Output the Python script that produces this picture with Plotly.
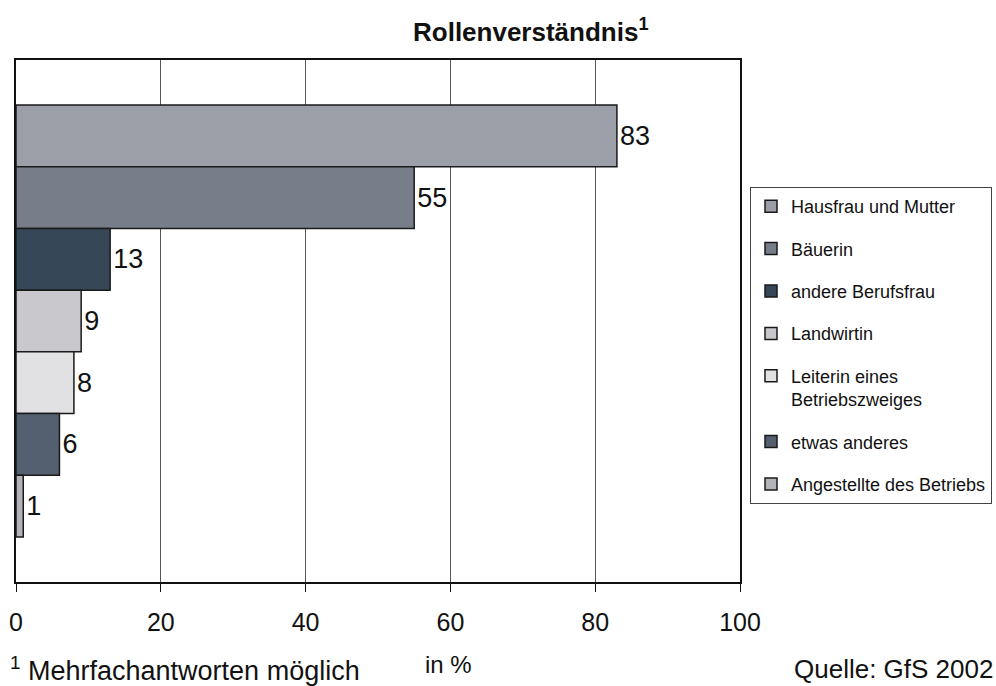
import plotly.graph_objects as go

# Survey answers (multiple answers allowed), values in percent
categories = [
    "Hausfrau und Mutter",
    "Bäuerin",
    "andere Berufsfrau",
    "Landwirtin",
    "Leiterin eines<br>Betriebszweiges",
    "etwas anderes",
    "Angestellte des Betriebs",
]
values = [83, 55, 13, 9, 8, 6, 1]
bar_colors = ["#9c9fa8", "#787e89", "#364858", "#c9c9cd", "#e1e1e3", "#545f6f", "#b2b4ba"]
x_ticks = [0, 20, 40, 60, 80, 100]

W, H = 996, 686
L, R, T, B = 16, 740, 60, 582   # plot area in pixels


def px_x(px):
    return (px - L) / (R - L)


def px_y(py):
    return (B - py) / (B - T)


FONT = "Liberation Sans, Arial, sans-serif"

fig = go.Figure()
for i, (name, val, col) in enumerate(zip(categories, values, bar_colors)):
    fig.add_trace(go.Bar(
        x=[val], y=[i], name=name, orientation="h", width=1,
        marker=dict(color=col, line=dict(color="#1a1a1a", width=1.5)),
        text=[str(val)], textposition="outside", cliponaxis=False,
        constraintext="none",
        textfont=dict(size=27, color="#111111", family=FONT),
        legendgroup=f"g{i}", showlegend=True,
    ))

fig.update_layout(
    width=W, height=H,
    margin=dict(l=L, r=W - R, t=T, b=H - B, pad=0, autoexpand=False),
    paper_bgcolor="white", plot_bgcolor="white",
    barmode="overlay",
    font=dict(family=FONT, color="#111111"),
    showlegend=True,
    legend=dict(
        xref="container", yref="container",
        x=750 / W, y=1 - 187 / H, xanchor="left", yanchor="top",
        bgcolor="white", bordercolor="#444444", borderwidth=1,
        font=dict(size=18, family=FONT, color="#111111"),
        traceorder="grouped", tracegroupgap=16, valign="top",
        itemclick=False,
    ),
    xaxis=dict(
        range=[0, 100], tickvals=x_ticks, ticktext=[str(v) for v in x_ticks],
        ticks="outside", ticklen=8, tickcolor="#111111", tickwidth=1,
        tickfont=dict(size=25, family=FONT, color="#111111"),
        ticklabelstandoff=9,
        showgrid=True, gridcolor="#555555", gridwidth=1,
        showline=True, linecolor="#111111", linewidth=1.5, mirror=True,
        zeroline=False, fixedrange=True,
    ),
    yaxis=dict(
        range=[7.23, -1.23], showticklabels=False, ticks="",
        showgrid=False, zeroline=False,
        showline=True, linecolor="#111111", linewidth=1.5, mirror=True,
        fixedrange=True,
    ),
)

# Title and footer texts
fig.add_annotation(
    text="<b>Rollenverständnis<sup>1</sup></b>", xref="paper", yref="paper",
    x=px_x(531), y=px_y(31), xanchor="center", yanchor="middle",
    showarrow=False, font=dict(size=26, family=FONT, color="#111111"),
)
fig.add_annotation(
    text="<sup>1</sup> Mehrfachantworten möglich", xref="paper", yref="paper",
    x=px_x(8), y=px_y(669), xanchor="left", yanchor="middle",
    showarrow=False, font=dict(size=27, family=FONT, color="#111111"),
)
fig.add_annotation(
    text="in %", xref="paper", yref="paper",
    x=px_x(448), y=px_y(664), xanchor="center", yanchor="middle",
    showarrow=False, font=dict(size=24, family=FONT, color="#111111"),
)
fig.add_annotation(
    text="Quelle: GfS 2002", xref="paper", yref="paper",
    x=px_x(995), y=px_y(669), xanchor="right", yanchor="middle",
    showarrow=False, font=dict(size=26, family=FONT, color="#111111"),
)

fig.write_html("out.html")
